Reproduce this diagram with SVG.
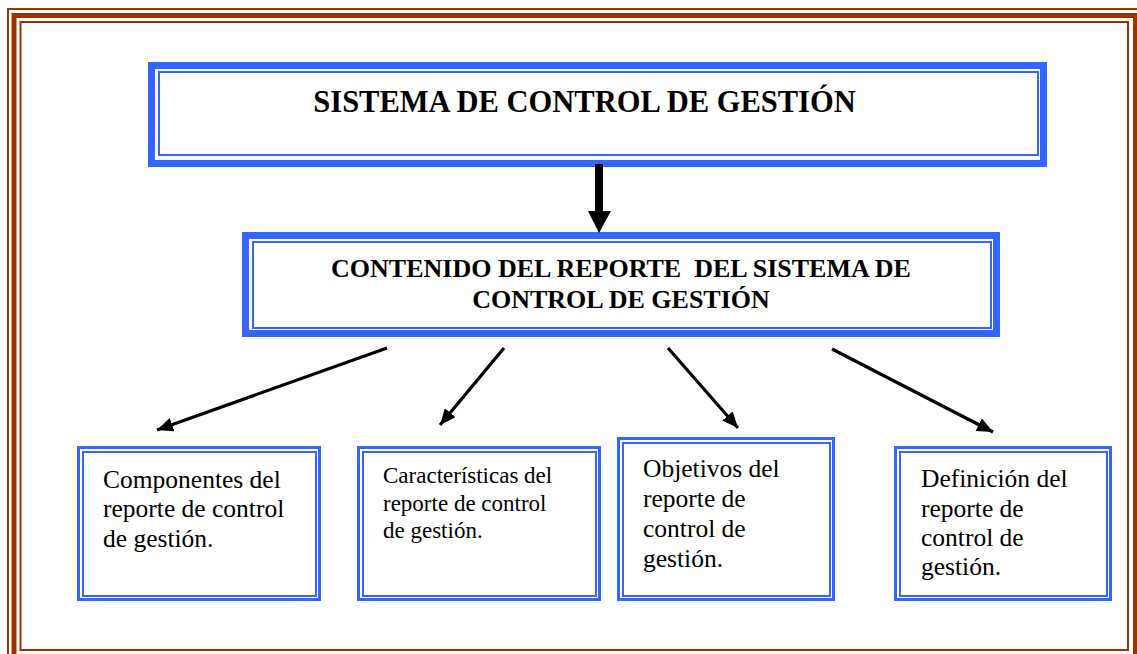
<svg xmlns="http://www.w3.org/2000/svg" width="1137" height="654" viewBox="0 0 1137 654">
<style>
.frame{fill:none;stroke:#993300}
.thick{fill:none;stroke:#3366FF;stroke-width:7}
.thin{fill:none;stroke:#3366FF;stroke-width:2}
.thin3{fill:none;stroke:#3366FF;stroke-width:3}
.head{font-family:"Liberation Serif","Times New Roman",serif;font-weight:bold;font-size:26px;fill:#000}
.title{font-size:30.5px}
.body{font-family:"Liberation Serif","Times New Roman",serif;font-size:25.5px;fill:#000}
.small{font-size:23px}
.conn{stroke:#000;stroke-width:3.2;fill:none}
</style>
<defs>
<marker id="ah" markerUnits="userSpaceOnUse" markerWidth="18" markerHeight="14" refX="16" refY="7" orient="auto">
<path d="M0,0 L16,7 L0,14 Z" fill="#000"/>
</marker>
</defs>
<rect width="1137" height="654" fill="#fff"/>
<g id="frame">
<rect class="frame" x="8" y="9" width="1134" height="652" stroke-width="2"/>
<rect class="frame" x="14" y="15.5" width="1121.5" height="641" stroke-width="5"/>
<rect class="frame" x="20.5" y="22" width="1107.5" height="628" stroke-width="2"/>
</g>
<g id="n1">
<rect class="thick" x="151.5" y="65.5" width="892" height="98"/>
<rect class="thin" x="159" y="72" width="879" height="83"/>
<text class="head title" x="584.5" y="112" text-anchor="middle">SISTEMA DE CONTROL DE GESTIÓN</text>
</g>
<g id="n2">
<rect class="thick" x="245.5" y="235.5" width="751" height="98"/>
<rect class="thin" x="253" y="242" width="738" height="86"/>
<text class="head" x="621" y="277" text-anchor="middle" xml:space="preserve">CONTENIDO DEL REPORTE  DEL SISTEMA DE</text>
<text class="head" x="621" y="308" text-anchor="middle">CONTROL DE GESTIÓN</text>
</g>
<g id="nA">
<rect class="thin3" x="78.5" y="447.5" width="241" height="152"/>
<rect class="thin" x="83" y="452" width="233" height="144"/>
<text class="body" x="103" y="488">Componentes del</text>
<text class="body" x="103" y="517">reporte de control</text>
<text class="body" x="103" y="547">de gestión.</text>
</g>
<g id="nB">
<rect class="thin3" x="358.5" y="447.5" width="241" height="152"/>
<rect class="thin" x="363" y="452" width="233" height="144"/>
<text class="body small" x="383" y="483">Características del</text>
<text class="body small" x="383" y="511">reporte de control</text>
<text class="body small" x="383" y="538">de gestión.</text>
</g>
<g id="nC">
<rect class="thin3" x="618.5" y="438.5" width="215" height="161"/>
<rect class="thin" x="623" y="443" width="207" height="153"/>
<text class="body" x="643" y="477">Objetivos del</text>
<text class="body" x="643" y="507">reporte de</text>
<text class="body" x="643" y="537">control de</text>
<text class="body" x="643" y="567">gestión.</text>
</g>
<g id="nD">
<rect class="thin3" x="895.5" y="447.5" width="215" height="152"/>
<rect class="thin" x="900" y="452" width="207" height="144"/>
<text class="body" x="921" y="487">Definición del</text>
<text class="body" x="921" y="517">reporte de</text>
<text class="body" x="921" y="546">control de</text>
<text class="body" x="921" y="575">gestión.</text>
</g>
<g id="connectors">
<path d="M595,164 L603,164 L603,211 L611,211 L599,233 L588,211 L595,211 Z" fill="#000"/>
<line class="conn" x1="387" y1="348" x2="157" y2="430" marker-end="url(#ah)"/>
<line class="conn" x1="504" y1="348" x2="440" y2="425" marker-end="url(#ah)"/>
<line class="conn" x1="668" y1="348" x2="738" y2="428" marker-end="url(#ah)"/>
<line class="conn" x1="832" y1="349" x2="993" y2="432" marker-end="url(#ah)"/>
</g>
</svg>
